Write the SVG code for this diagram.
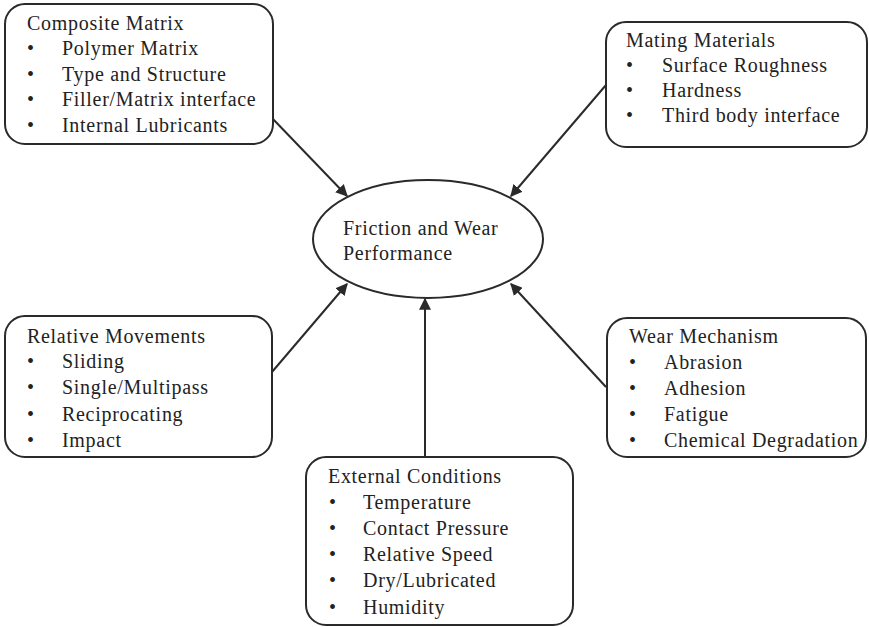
<svg xmlns="http://www.w3.org/2000/svg" width="869" height="627" viewBox="0 0 869 627">
<style>
.box{fill:#fff;stroke:#2a2a2a;stroke-width:2}
text{font-family:"Liberation Serif","Times New Roman",serif;font-size:20px;letter-spacing:0.7px;fill:#222}
.conn{stroke:#2a2a2a;stroke-width:2;fill:none;marker-end:url(#arr)}
</style>
<defs>
<marker id="arr" viewBox="0 0 10 10" refX="9" refY="5" markerWidth="6" markerHeight="6" orient="auto" markerUnits="strokeWidth">
<path d="M0,0 L10,5 L0,10 z" fill="#2a2a2a"/>
</marker>
</defs>
<rect width="869" height="627" fill="#fff"/>
<g id="connectors">
<line class="conn" x1="272" y1="118" x2="347" y2="196"/>
<line class="conn" x1="606" y1="85" x2="511" y2="196"/>
<line class="conn" x1="272" y1="372" x2="347" y2="284"/>
<line class="conn" x1="606" y1="387" x2="511" y2="284"/>
<line class="conn" x1="425" y1="457" x2="425" y2="299"/>
</g>
<g id="center">
<ellipse class="box" cx="428" cy="239" rx="115" ry="59"/>
<text x="343" y="235">Friction and Wear</text>
<text x="343" y="260">Performance</text>
</g>
<g id="composite">
<rect class="box" x="5" y="4" width="268" height="140" rx="20"/>
<text x="27" y="30">Composite Matrix</text>
<text x="27" y="55">•</text><text x="62" y="55">Polymer Matrix</text>
<text x="27" y="81">•</text><text x="62" y="81">Type and Structure</text>
<text x="27" y="106">•</text><text x="62" y="106">Filler/Matrix interface</text>
<text x="27" y="132">•</text><text x="62" y="132">Internal Lubricants</text>
</g>
<g id="mating">
<rect class="box" x="606" y="22" width="261" height="125" rx="20"/>
<text x="626" y="47">Mating Materials</text>
<text x="626" y="72">•</text><text x="662" y="72">Surface Roughness</text>
<text x="626" y="97">•</text><text x="662" y="97">Hardness</text>
<text x="626" y="122">•</text><text x="662" y="122">Third body interface</text>
</g>
<g id="relative">
<rect class="box" x="5" y="316" width="267" height="141" rx="20"/>
<text x="27" y="343">Relative Movements</text>
<text x="27" y="368">•</text><text x="62" y="368">Sliding</text>
<text x="27" y="394">•</text><text x="62" y="394">Single/Multipass</text>
<text x="27" y="421">•</text><text x="62" y="421">Reciprocating</text>
<text x="27" y="447">•</text><text x="62" y="447">Impact</text>
</g>
<g id="wear">
<rect class="box" x="607" y="318" width="259" height="139" rx="20"/>
<text x="629" y="343">Wear Mechanism</text>
<text x="629" y="369">•</text><text x="664" y="369">Abrasion</text>
<text x="629" y="395">•</text><text x="664" y="395">Adhesion</text>
<text x="629" y="421">•</text><text x="664" y="421">Fatigue</text>
<text x="629" y="447">•</text><text x="664" y="447">Chemical Degradation</text>
</g>
<g id="external">
<rect class="box" x="306" y="457" width="267" height="168" rx="20"/>
<text x="328" y="483">External Conditions</text>
<text x="329" y="509">•</text><text x="363" y="509">Temperature</text>
<text x="329" y="535">•</text><text x="363" y="535">Contact Pressure</text>
<text x="329" y="561">•</text><text x="363" y="561">Relative Speed</text>
<text x="329" y="587">•</text><text x="363" y="587">Dry/Lubricated</text>
<text x="329" y="614">•</text><text x="363" y="614">Humidity</text>
</g>
</svg>
